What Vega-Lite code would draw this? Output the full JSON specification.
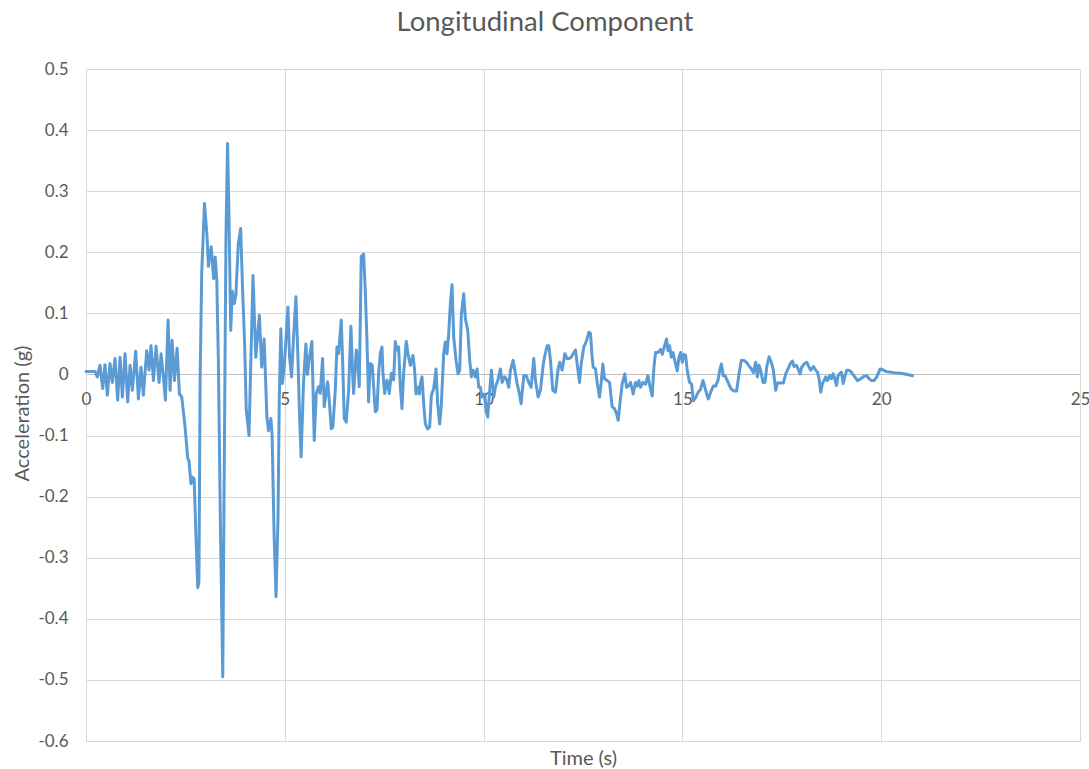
{
  "$schema": "https://vega.github.io/schema/vega-lite/v6.json",
  "width": 994,
  "height": 672,
  "autosize": {"type": "none"},
  "padding": {"left": 86, "top": 69, "right": 9, "bottom": 28},
  "background": "white",
  "config": {"view": {"stroke": null}, "font": "Lato"},
  "title": {"text": "Longitudinal Component", "fontSize": 27.5, "font": "Lato", "fontWeight": "normal", "color": "#595959", "anchor": "middle", "dx": -38, "offset": 2, "baseline": "alphabetic"},
  "data": {"values": [
    {"t":0,"a":0.005},{"t":0.227,"a":0.005},{"t":0.285,"a":-0.004},{"t":0.352,"a":0.015},{"t":0.42,"a":-0.023},{"t":0.478,"a":0.016},{"t":0.537,"a":-0.034},{"t":0.604,"a":0.018},{"t":0.663,"a":-0.013},{"t":0.73,"a":0.026},{"t":0.797,"a":-0.042},{"t":0.856,"a":0.028},{"t":0.915,"a":-0.037},{"t":0.982,"a":0.034},{"t":1.049,"a":-0.045},{"t":1.108,"a":0.015},{"t":1.166,"a":-0.026},{"t":1.25,"a":0.038},{"t":1.318,"a":-0.04},{"t":1.385,"a":0.012},{"t":1.443,"a":-0.034},{"t":1.527,"a":0.039},{"t":1.586,"a":0.007},{"t":1.636,"a":0.047},{"t":1.695,"a":-0.01},{"t":1.762,"a":0.046},{"t":1.838,"a":-0.013},{"t":1.888,"a":0.034},{"t":1.947,"a":-0.004},{"t":1.997,"a":-0.042},{"t":2.064,"a":0.089},{"t":2.115,"a":-0.026},{"t":2.165,"a":0.056},{"t":2.224,"a":-0.01},{"t":2.291,"a":0.043},{"t":2.35,"a":-0.032},{"t":2.409,"a":-0.037},{"t":2.49,"a":-0.085},
    {"t":2.56,"a":-0.138},{"t":2.59,"a":-0.141},{"t":2.64,"a":-0.179},{"t":2.68,"a":-0.168},{"t":2.72,"a":-0.171},{"t":2.77,"a":-0.273},{"t":2.81,"a":-0.349},{"t":2.84,"a":-0.34},{"t":2.87,"a":-0.01},{"t":2.91,"a":0.165},{"t":2.98,"a":0.28},{"t":3.04,"a":0.23},{"t":3.08,"a":0.177},{"t":3.15,"a":0.209},{"t":3.21,"a":0.157},{"t":3.25,"a":0.192},{"t":3.29,"a":0.154},{"t":3.33,"a":0.02},{"t":3.38,"a":-0.244},{"t":3.44,"a":-0.495},{"t":3.48,"a":-0.126},{"t":3.52,"a":0.224},{"t":3.56,"a":0.378},{"t":3.59,"a":0.282},{"t":3.64,"a":0.072},{"t":3.68,"a":0.136},{"t":3.73,"a":0.116},{"t":3.77,"a":0.13},{"t":3.83,"a":0.213},{"t":3.89,"a":0.239},{"t":3.94,"a":0.136},{"t":3.99,"a":0.049},{"t":4.03,"a":-0.057},{"t":4.1,"a":-0.1},
    {"t":4.2,"a":0.162},{"t":4.27,"a":0.028},{"t":4.36,"a":0.097},{"t":4.42,"a":0.012},{"t":4.48,"a":0.058},{"t":4.55,"a":-0.07},{"t":4.59,"a":-0.092},{"t":4.65,"a":-0.072},{"t":4.68,"a":-0.098},{"t":4.73,"a":-0.26},{"t":4.78,"a":-0.364},{"t":4.83,"a":-0.233},{"t":4.86,"a":-0.043},{"t":4.9,"a":0.075},{"t":4.94,"a":-0.015},{"t":4.99,"a":0.017},{"t":5.08,"a":0.11},{"t":5.12,"a":0.028},{"t":5.17,"a":-0.004},{"t":5.22,"a":0.061},{"t":5.28,"a":0.127},{"t":5.33,"a":0.028},{"t":5.37,"a":-0.064},{"t":5.41,"a":-0.135},{"t":5.47,"a":-0.015},{"t":5.53,"a":0.05},{"t":5.57,"a":0.0},{"t":5.61,"a":0.023},
    {"t":5.681,"a":0.054},{"t":5.74,"a":-0.108},{"t":5.791,"a":-0.031},{"t":5.849,"a":-0.02},{"t":5.891,"a":-0.031},{"t":5.95,"a":0.026},{"t":5.992,"a":-0.053},{"t":6.076,"a":-0.012},{"t":6.118,"a":-0.042},{"t":6.168,"a":-0.089},{"t":6.21,"a":-0.086},{"t":6.269,"a":-0.026},{"t":6.311,"a":0.045},{"t":6.353,"a":0.034},{"t":6.42,"a":0.089},{"t":6.454,"a":0.023},{"t":6.495,"a":-0.072},{"t":6.546,"a":-0.078},{"t":6.605,"a":-0.026},{"t":6.663,"a":0.079},{"t":6.705,"a":0.002},{"t":6.73,"a":-0.031},{"t":6.798,"a":0.04},{"t":6.84,"a":0.013},{"t":6.873,"a":-0.02},{"t":6.923,"a":0.193},{"t":6.982,"a":0.197},{"t":7.024,"a":0.138},{"t":7.066,"a":0.056},{"t":7.108,"a":-0.045},{"t":7.15,"a":0.018},{"t":7.2,"a":0.015},{"t":7.276,"a":-0.061},{"t":7.318,"a":-0.058},{"t":7.36,"a":0.002},{"t":7.402,"a":0.034},{"t":7.444,"a":0.045},{"t":7.469,"a":0.002},{"t":7.511,"a":-0.031},{"t":7.57,"a":-0.009},{"t":7.628,"a":-0.031},{"t":7.679,"a":0.002},{"t":7.737,"a":-0.009},{"t":7.779,"a":0.054},{"t":7.821,"a":0.04},{"t":7.863,"a":0.045},{"t":7.905,"a":-0.02},{"t":7.947,"a":-0.056},{"t":7.989,"a":0.002},{"t":8.056,"a":0.054},{"t":8.098,"a":0.034},{"t":8.157,"a":0.015},
    {"t":8.224,"a":0.031},{"t":8.266,"a":0.007},{"t":8.3,"a":-0.032},{"t":8.342,"a":-0.021},{"t":8.384,"a":-0.032},{"t":8.409,"a":-0.015},{"t":8.451,"a":-0.004},{"t":8.493,"a":-0.048},{"t":8.535,"a":-0.081},{"t":8.593,"a":-0.089},{"t":8.644,"a":-0.086},{"t":8.686,"a":-0.034},{"t":8.745,"a":-0.023},{"t":8.803,"a":0.009},{"t":8.845,"a":-0.048},{"t":8.896,"a":-0.081},{"t":8.938,"a":-0.048},{"t":8.996,"a":0.034},{"t":9.038,"a":0.053},{"t":9.08,"a":0.034},{"t":9.122,"a":0.067},{"t":9.164,"a":0.116},{"t":9.206,"a":0.147},{"t":9.248,"a":0.061},{"t":9.307,"a":0.023},{"t":9.357,"a":0.001},{"t":9.399,"a":0.007},{"t":9.441,"a":0.099},{"t":9.5,"a":0.132},{"t":9.542,"a":0.091},{"t":9.601,"a":0.072},{"t":9.651,"a":0.023},{"t":9.693,"a":-0.004},{"t":9.735,"a":0.007},{"t":9.794,"a":-0.004},{"t":9.836,"a":0.009},{"t":9.877,"a":-0.021},{"t":9.919,"a":-0.021},{"t":9.961,"a":-0.037},{"t":10.02,"a":-0.032},{"t":10.062,"a":-0.059},{"t":10.104,"a":-0.07},{"t":10.146,"a":-0.032},{"t":10.196,"a":0.007},{"t":10.255,"a":-0.037},{"t":10.297,"a":-0.021},{"t":10.356,"a":-0.01},{"t":10.423,"a":0.009},{"t":10.465,"a":-0.013},{"t":10.524,"a":-0.004},{"t":10.574,"a":-0.007},{"t":10.633,"a":-0.021},{"t":10.675,"a":0.007},
    {"t":10.742,"a":0.023},{"t":10.801,"a":0.001},{"t":10.843,"a":-0.015},{"t":10.901,"a":-0.032},{"t":10.943,"a":-0.048},{"t":11.01,"a":-0.002},{"t":11.069,"a":-0.002},{"t":11.136,"a":-0.013},{"t":11.195,"a":-0.021},{"t":11.262,"a":0.026},{"t":11.304,"a":-0.01},{"t":11.371,"a":-0.037},{"t":11.43,"a":-0.026},{"t":11.497,"a":0.015},{"t":11.539,"a":0.031},{"t":11.598,"a":0.047},{"t":11.64,"a":0.047},{"t":11.682,"a":0.023},{"t":11.74,"a":-0.026},{"t":11.808,"a":-0.029},{"t":11.875,"a":0.009},{"t":11.917,"a":0.02},{"t":11.975,"a":0.007},{"t":12.043,"a":0.034},{"t":12.101,"a":0.026},{"t":12.143,"a":0.026},{"t":12.202,"a":0.028},{"t":12.252,"a":0.034},{"t":12.311,"a":0.04},{"t":12.353,"a":0.017},{"t":12.412,"a":-0.013},{"t":12.454,"a":0.017},{"t":12.521,"a":0.045},{"t":12.588,"a":0.055},{"t":12.647,"a":0.069},{"t":12.689,"a":0.067},{"t":12.722,"a":0.034},{"t":12.756,"a":0.012},{"t":12.815,"a":0.009},{"t":12.857,"a":-0.013},{"t":12.915,"a":-0.037},{"t":12.958,"a":-0.013},{"t":12.999,"a":0.017},{"t":13.041,"a":-0.007},{"t":13.108,"a":-0.01},{"t":13.167,"a":-0.013},{"t":13.234,"a":-0.053},{"t":13.293,"a":-0.056},{"t":13.343,"a":-0.064},{"t":13.385,"a":-0.075},{"t":13.427,"a":-0.048},{"t":13.486,"a":-0.015},{"t":13.553,"a":0.001},{"t":13.595,"a":-0.021},{"t":13.654,"a":-0.018},
    {"t":13.696,"a":-0.013},{"t":13.763,"a":-0.032},{"t":13.822,"a":-0.013},{"t":13.864,"a":-0.019},{"t":13.906,"a":-0.01},{"t":13.948,"a":-0.021},{"t":14.006,"a":-0.013},{"t":14.073,"a":-0.016},{"t":14.132,"a":-0.002},{"t":14.183,"a":-0.019},{"t":14.241,"a":-0.035},{"t":14.283,"a":0.011},{"t":14.325,"a":0.036},{"t":14.384,"a":0.036},{"t":14.451,"a":0.041},{"t":14.493,"a":0.033},{"t":14.552,"a":0.047},{"t":14.602,"a":0.058},{"t":14.636,"a":0.039},{"t":14.678,"a":0.047},{"t":14.72,"a":0.028},{"t":14.762,"a":0.036},{"t":14.829,"a":0.017},{"t":14.871,"a":0.006},{"t":14.913,"a":0.028},{"t":14.955,"a":0.036},{"t":14.997,"a":0.02},{"t":15.039,"a":0.033},{"t":15.081,"a":0.031},{"t":15.123,"a":0.006},{"t":15.181,"a":-0.013},{"t":15.232,"a":-0.016},{"t":15.274,"a":-0.043},{"t":15.332,"a":-0.038},{"t":15.399,"a":-0.029},{"t":15.458,"a":-0.024},{"t":15.517,"a":-0.01},{"t":15.559,"a":-0.019},{"t":15.609,"a":-0.032},{"t":15.651,"a":-0.04},{"t":15.71,"a":-0.029},{"t":15.777,"a":-0.019},{"t":15.836,"a":-0.019},{"t":15.894,"a":-0.01},{"t":15.937,"a":0.006},{"t":15.979,"a":0.017},{"t":16.029,"a":-0.002},{"t":16.071,"a":-0.002},{"t":16.13,"a":-0.01},{"t":16.188,"a":-0.019},{"t":16.23,"a":-0.024},{"t":16.297,"a":-0.027},{"t":16.364,"a":-0.027},{"t":16.423,"a":0.001},{"t":16.482,"a":0.023},{"t":16.549,"a":0.023},{"t":16.608,"a":0.02},{"t":16.675,"a":0.014},{"t":16.734,"a":0.009},{"t":16.784,"a":0.003},{"t":16.843,"a":0.02},
    {"t":16.885,"a":-0.004},{"t":16.927,"a":0.015},{"t":16.969,"a":0.007},{"t":17.027,"a":-0.013},{"t":17.078,"a":-0.013},{"t":17.12,"a":0.012},{"t":17.179,"a":0.029},{"t":17.237,"a":0.02},{"t":17.288,"a":0.007},{"t":17.346,"a":-0.026},{"t":17.388,"a":-0.014},{"t":17.472,"a":-0.014},{"t":17.539,"a":-0.014},{"t":17.598,"a":0.001},{"t":17.657,"a":0.009},{"t":17.707,"a":0.017},{"t":17.766,"a":0.022},{"t":17.808,"a":0.013},{"t":17.867,"a":0.015},{"t":17.909,"a":0.009},{"t":17.959,"a":0.001},{"t":18.001,"a":0.012},{"t":18.06,"a":0.017},{"t":18.127,"a":0.02},{"t":18.186,"a":0.012},{"t":18.228,"a":0.007},{"t":18.295,"a":0.013},{"t":18.353,"a":0.007},{"t":18.396,"a":0.004},{"t":18.438,"a":-0.007},{"t":18.479,"a":-0.029},{"t":18.521,"a":-0.015},{"t":18.563,"a":-0.01},{"t":18.605,"a":-0.004},{"t":18.647,"a":-0.01},{"t":18.706,"a":-0.002},{"t":18.748,"a":-0.007},{"t":18.79,"a":0.001},{"t":18.832,"a":-0.007},{"t":18.874,"a":-0.018},{"t":18.916,"a":-0.002},{"t":18.958,"a":0.001},{"t":19.0,"a":0.004},{"t":19.042,"a":-0.015},{"t":19.092,"a":-0.002},{"t":19.134,"a":0.007},{"t":19.193,"a":0.007},{"t":19.235,"a":0.005},{"t":19.277,"a":0.001},{"t":19.335,"a":-0.004},{"t":19.402,"a":-0.01},{"t":19.486,"a":-0.007},{"t":19.57,"a":-0.003},{"t":19.637,"a":-0.002},{"t":19.696,"a":-0.007},{"t":19.755,"a":-0.01},{"t":19.822,"a":-0.01},{"t":19.889,"a":-0.004},{"t":19.973,"a":0.009},{"t":20.032,"a":0.008},{"t":20.116,"a":0.005},{"t":20.2,"a":0.004},{"t":20.325,"a":0.003},{"t":20.493,"a":0.002},{"t":20.661,"a":0.0},{"t":20.787,"a":-0.002}
  ]},
  "mark": {"type": "line", "color": "#5B9BD5", "strokeWidth": 3, "strokeJoin": "round", "strokeCap": "round"},
  "encoding": {
    "x": {
      "field": "t", "type": "quantitative",
      "scale": {"domain": [0, 25], "nice": false, "zero": false},
      "axis": {
        "values": [0, 5, 10, 15, 20, 25],
        "offset": -367,
        "grid": true, "gridColor": "#d9d9d9", "gridWidth": 1,
        "ticks": false,
        "domainColor": "#bfbfbf", "domainWidth": 1,
        "labelFont": "Lato", "labelFontSize": 17, "labelColor": "#595959", "labelPadding": 17, "labelFlush": false,
        "title": "Time (s)", "titleFont": "Lato", "titleFontSize": 20, "titleFontWeight": "normal", "titleColor": "#595959",
        "titleY": 384, "titleBaseline": "middle"
      }
    },
    "y": {
      "field": "a", "type": "quantitative",
      "scale": {"domain": [-0.6, 0.5], "nice": false, "zero": false},
      "axis": {
        "values": [-0.6, -0.5, -0.4, -0.3, -0.2, -0.1, 0, 0.1, 0.2, 0.3, 0.4, 0.5],
        "domain": false, "ticks": false,
        "grid": true, "gridColor": "#d9d9d9", "gridWidth": 1,
        "labelFont": "Lato", "labelFontSize": 17, "labelColor": "#595959", "labelPadding": 18, "labelFlush": false,
        "labelExpr": "datum.value < 0 ? '-' + format(-datum.value, '.1~f') : format(datum.value, '.1~f')",
        "title": "Acceleration (g)", "titleFont": "Lato", "titleFontSize": 20, "titleFontWeight": "normal", "titleColor": "#595959",
        "titleX": -64, "titleY": 344, "titleBaseline": "middle", "titleAngle": -90, "titleAlign": "center"
      }
    }
  }
}
